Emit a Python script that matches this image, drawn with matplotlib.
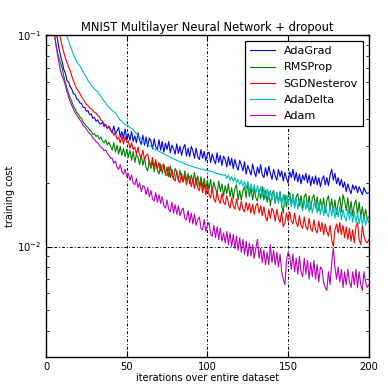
import numpy as np
import matplotlib
matplotlib.use("Agg")
import matplotlib.pyplot as plt

epochs = np.arange(1, 201)

adagrad = [
    0.350, 0.250, 0.190, 0.150, 0.125, 0.108, 0.097, 0.087, 0.080, 0.075,
    0.069, 0.066, 0.061, 0.060, 0.057, 0.0555, 0.0528, 0.0525, 0.0500, 0.0495,
    0.0478, 0.0475, 0.0456, 0.0455, 0.0437, 0.0440, 0.0420, 0.0425, 0.0405, 0.0408,
    0.0392, 0.0398, 0.0383, 0.0380, 0.0388, 0.0370, 0.0378, 0.0362, 0.0372, 0.0358,
    0.0345, 0.0372, 0.0340, 0.0352, 0.0366, 0.0330, 0.0350, 0.0326, 0.0360, 0.0322,
    0.0342, 0.0318, 0.0350, 0.0314, 0.0334, 0.0310, 0.0346, 0.0318, 0.0304, 0.0336,
    0.0302, 0.0330, 0.0296, 0.0326, 0.0316, 0.0290, 0.0324, 0.0296, 0.0288, 0.0320,
    0.0286, 0.0314, 0.0280, 0.0308, 0.0288, 0.0314, 0.0278, 0.0302, 0.0290, 0.0274,
    0.0306, 0.0276, 0.0298, 0.0270, 0.0292, 0.0304, 0.0268, 0.0292, 0.0266, 0.0298,
    0.0284, 0.0262, 0.0292, 0.0266, 0.0258, 0.0288, 0.0262, 0.0282, 0.0254, 0.0274,
    0.0280, 0.0250, 0.0274, 0.0258, 0.0246, 0.0278, 0.0250, 0.0270, 0.0242, 0.0268,
    0.0258, 0.0238, 0.0266, 0.0242, 0.0262, 0.0234, 0.0258, 0.0240, 0.0230, 0.0256,
    0.0244, 0.0228, 0.0252, 0.0220, 0.0242, 0.0230, 0.0218, 0.0246, 0.0226, 0.0214,
    0.0238, 0.0222, 0.0244, 0.0218, 0.0212, 0.0236, 0.0216, 0.0240, 0.0222, 0.0208,
    0.0232, 0.0216, 0.0206, 0.0232, 0.0214, 0.0228, 0.0204, 0.0224, 0.0210, 0.0200,
    0.0226, 0.0212, 0.0232, 0.0206, 0.0224, 0.0202, 0.0220, 0.0198, 0.0218, 0.0206,
    0.0222, 0.0200, 0.0218, 0.0194, 0.0214, 0.0198, 0.0216, 0.0196, 0.0212, 0.0192,
    0.0208, 0.0216, 0.0196, 0.0212, 0.0194, 0.0218, 0.0232, 0.0206, 0.0222, 0.0198,
    0.0212, 0.0194, 0.0208, 0.0190, 0.0202, 0.0182, 0.0198, 0.0186, 0.0178, 0.0196,
    0.0186, 0.0194, 0.0180, 0.0192, 0.0184, 0.0176, 0.0190, 0.0182, 0.0178, 0.0180]

rmsprop = [
    0.300, 0.200, 0.150, 0.120, 0.103, 0.092, 0.084, 0.078, 0.074, 0.070,
    0.064, 0.060, 0.056, 0.053, 0.0505, 0.0485, 0.0462, 0.0448, 0.0430, 0.0425,
    0.0410, 0.0405, 0.0388, 0.0380, 0.0372, 0.0366, 0.0356, 0.0352, 0.0340, 0.0342,
    0.0332, 0.0336, 0.0322, 0.0330, 0.0316, 0.0310, 0.0320, 0.0302, 0.0312, 0.0298,
    0.0286, 0.0310, 0.0280, 0.0302, 0.0274, 0.0298, 0.0270, 0.0292, 0.0266, 0.0288,
    0.0264, 0.0286, 0.0256, 0.0282, 0.0250, 0.0274, 0.0264, 0.0244, 0.0272, 0.0242,
    0.0262, 0.0236, 0.0228, 0.0256, 0.0234, 0.0252, 0.0226, 0.0250, 0.0230, 0.0220,
    0.0246, 0.0222, 0.0242, 0.0218, 0.0238, 0.0214, 0.0240, 0.0218, 0.0208, 0.0234,
    0.0226, 0.0204, 0.0230, 0.0210, 0.0202, 0.0228, 0.0206, 0.0222, 0.0198, 0.0218,
    0.0202, 0.0224, 0.0196, 0.0216, 0.0192, 0.0214, 0.0190, 0.0210, 0.0188, 0.0206,
    0.0186, 0.0208, 0.0182, 0.0202, 0.0188, 0.0178, 0.0204, 0.0182, 0.0198, 0.0174,
    0.0194, 0.0178, 0.0198, 0.0172, 0.0190, 0.0168, 0.0188, 0.0196, 0.0166, 0.0184,
    0.0166, 0.0184, 0.0192, 0.0170, 0.0202, 0.0172, 0.0190, 0.0166, 0.0188, 0.0170,
    0.0164, 0.0186, 0.0168, 0.0192, 0.0166, 0.0184, 0.0162, 0.0182, 0.0156, 0.0178,
    0.0184, 0.0160, 0.0180, 0.0162, 0.0182, 0.0156, 0.0144, 0.0176, 0.0154, 0.0174,
    0.0180, 0.0158, 0.0176, 0.0154, 0.0172, 0.0178, 0.0156, 0.0174, 0.0152, 0.0172,
    0.0178, 0.0154, 0.0174, 0.0150, 0.0170, 0.0176, 0.0152, 0.0172, 0.0148, 0.0168,
    0.0150, 0.0170, 0.0144, 0.0166, 0.0174, 0.0150, 0.0168, 0.0146, 0.0166, 0.0142,
    0.0160, 0.0172, 0.0146, 0.0176, 0.0164, 0.0148, 0.0170, 0.0144, 0.0164, 0.0140,
    0.0158, 0.0166, 0.0142, 0.0162, 0.0138, 0.0154, 0.0136, 0.0150, 0.0136, 0.0138]

sgdnesterov = [
    0.360, 0.260, 0.200, 0.160, 0.140, 0.125, 0.113, 0.104, 0.096, 0.089,
    0.083, 0.078, 0.074, 0.071, 0.068, 0.064, 0.061, 0.058, 0.056, 0.0545,
    0.0530, 0.0512, 0.0500, 0.0485, 0.0470, 0.0465, 0.0452, 0.0448, 0.0440, 0.0432,
    0.0428, 0.0418, 0.0412, 0.0398, 0.0392, 0.0380, 0.0376, 0.0364, 0.0368, 0.0354,
    0.0352, 0.0336, 0.0344, 0.0322, 0.0330, 0.0310, 0.0334, 0.0306, 0.0330, 0.0312,
    0.0316, 0.0292, 0.0310, 0.0288, 0.0296, 0.0274, 0.0296, 0.0270, 0.0264, 0.0286,
    0.0258, 0.0270, 0.0274, 0.0248, 0.0242, 0.0264, 0.0238, 0.0258, 0.0232, 0.0250,
    0.0228, 0.0240, 0.0246, 0.0220, 0.0216, 0.0238, 0.0212, 0.0232, 0.0210, 0.0204,
    0.0228, 0.0206, 0.0200, 0.0222, 0.0202, 0.0218, 0.0196, 0.0212, 0.0214, 0.0192,
    0.0208, 0.0188, 0.0212, 0.0190, 0.0184, 0.0204, 0.0180, 0.0200, 0.0176, 0.0192,
    0.0176, 0.0170, 0.0190, 0.0168, 0.0162, 0.0182, 0.0166, 0.0160, 0.0178, 0.0162,
    0.0158, 0.0174, 0.0160, 0.0152, 0.0170, 0.0156, 0.0150, 0.0168, 0.0154, 0.0148,
    0.0164, 0.0150, 0.0146, 0.0162, 0.0148, 0.0160, 0.0144, 0.0158, 0.0142, 0.0156,
    0.0160, 0.0144, 0.0156, 0.0140, 0.0154, 0.0138, 0.0132, 0.0150, 0.0136, 0.0152,
    0.0146, 0.0132, 0.0150, 0.0136, 0.0130, 0.0146, 0.0124, 0.0130, 0.0144, 0.0132,
    0.0146, 0.0132, 0.0128, 0.0144, 0.0130, 0.0124, 0.0140, 0.0126, 0.0122, 0.0138,
    0.0124, 0.0120, 0.0136, 0.0122, 0.0118, 0.0134, 0.0120, 0.0116, 0.0132, 0.0118,
    0.0130, 0.0114, 0.0128, 0.0118, 0.0112, 0.0126, 0.0108, 0.0100, 0.0120, 0.0128,
    0.0116, 0.0130, 0.0114, 0.0126, 0.0110, 0.0124, 0.0108, 0.0122, 0.0106, 0.0120,
    0.0104, 0.0124, 0.0130, 0.0108, 0.0102, 0.0126, 0.0112, 0.0106, 0.0104, 0.0108]

adadelta = [
    0.600, 0.420, 0.320, 0.260, 0.220, 0.190, 0.165, 0.148, 0.133, 0.121,
    0.112, 0.104, 0.099, 0.094, 0.089, 0.085, 0.081, 0.078, 0.075, 0.073,
    0.0715, 0.0695, 0.0670, 0.0652, 0.0636, 0.0610, 0.0598, 0.0580, 0.0570, 0.0556,
    0.0548, 0.0540, 0.0525, 0.0516, 0.0500, 0.0488, 0.0478, 0.0466, 0.0456, 0.0448,
    0.0440, 0.0434, 0.0430, 0.0418, 0.0405, 0.0396, 0.0392, 0.0384, 0.0378, 0.0376,
    0.0372, 0.0366, 0.0362, 0.0358, 0.0350, 0.0342, 0.0336, 0.0330, 0.0322, 0.0318,
    0.0314, 0.0308, 0.0306, 0.0300, 0.0298, 0.0294, 0.0290, 0.0288, 0.0285, 0.0282,
    0.0280, 0.0277, 0.0275, 0.0272, 0.0270, 0.0266, 0.0265, 0.0262, 0.0260, 0.0258,
    0.0256, 0.0254, 0.0252, 0.0250, 0.0249, 0.0246, 0.0245, 0.0243, 0.0242, 0.0240,
    0.0239, 0.0237, 0.0236, 0.0235, 0.0234, 0.0232, 0.0233, 0.0230, 0.0231, 0.0229,
    0.0228, 0.0226, 0.0227, 0.0224, 0.0223, 0.0221, 0.0222, 0.0218, 0.0220, 0.0216,
    0.0219, 0.0210, 0.0218, 0.0206, 0.0214, 0.0203, 0.0212, 0.0200, 0.0208, 0.0196,
    0.0206, 0.0193, 0.0203, 0.0188, 0.0202, 0.0184, 0.0198, 0.0182, 0.0196, 0.0179,
    0.0194, 0.0176, 0.0192, 0.0172, 0.0190, 0.0170, 0.0187, 0.0168, 0.0184, 0.0166,
    0.0182, 0.0164, 0.0180, 0.0160, 0.0178, 0.0158, 0.0176, 0.0156, 0.0174, 0.0160,
    0.0172, 0.0154, 0.0178, 0.0152, 0.0170, 0.0150, 0.0168, 0.0156, 0.0148, 0.0166,
    0.0150, 0.0164, 0.0146, 0.0162, 0.0144, 0.0160, 0.0164, 0.0144, 0.0160, 0.0142,
    0.0158, 0.0140, 0.0156, 0.0144, 0.0138, 0.0156, 0.0140, 0.0154, 0.0136, 0.0152,
    0.0138, 0.0154, 0.0134, 0.0150, 0.0138, 0.0132, 0.0150, 0.0134, 0.0148, 0.0130,
    0.0146, 0.0130, 0.0144, 0.0128, 0.0142, 0.0126, 0.0140, 0.0126, 0.0136, 0.0130]

adam = [
    0.300, 0.200, 0.150, 0.122, 0.105, 0.092, 0.082, 0.074, 0.068, 0.064,
    0.0615, 0.0575, 0.0540, 0.0510, 0.0485, 0.0465, 0.0448, 0.0430, 0.0420, 0.0408,
    0.0398, 0.0388, 0.0374, 0.0368, 0.0360, 0.0350, 0.0342, 0.0338, 0.0326, 0.0322,
    0.0314, 0.0310, 0.0302, 0.0296, 0.0292, 0.0284, 0.0286, 0.0276, 0.0270, 0.0262,
    0.0262, 0.0248, 0.0254, 0.0238, 0.0232, 0.0244, 0.0226, 0.0220, 0.0232, 0.0214,
    0.0222, 0.0206, 0.0218, 0.0200, 0.0196, 0.0210, 0.0190, 0.0200, 0.0182, 0.0194,
    0.0192, 0.0176, 0.0190, 0.0172, 0.0184, 0.0168, 0.0164, 0.0180, 0.0162, 0.0176,
    0.0160, 0.0172, 0.0156, 0.0152, 0.0166, 0.0150, 0.0146, 0.0162, 0.0144, 0.0158,
    0.0142, 0.0156, 0.0140, 0.0148, 0.0152, 0.0136, 0.0134, 0.0148, 0.0130, 0.0144,
    0.0128, 0.0142, 0.0126, 0.0134, 0.0138, 0.0122, 0.0120, 0.0134, 0.0118, 0.0126,
    0.0130, 0.0114, 0.0112, 0.0126, 0.0110, 0.0124, 0.0108, 0.0122, 0.0106, 0.0116,
    0.0104, 0.0118, 0.0102, 0.0116, 0.0100, 0.0114, 0.0098, 0.0112, 0.0096, 0.0110,
    0.0094, 0.0108, 0.0092, 0.0106, 0.0090, 0.0104, 0.0090, 0.0102, 0.0088, 0.0098,
    0.0108, 0.0088, 0.0098, 0.0084, 0.0096, 0.0082, 0.0094, 0.0082, 0.0102, 0.0084,
    0.0096, 0.0082, 0.0094, 0.0080, 0.0092, 0.0076, 0.0070, 0.0066, 0.0086, 0.0094,
    0.0090, 0.0078, 0.0092, 0.0076, 0.0088, 0.0074, 0.0090, 0.0076, 0.0072, 0.0088,
    0.0074, 0.0086, 0.0070, 0.0084, 0.0072, 0.0086, 0.0070, 0.0082, 0.0068, 0.0080,
    0.0078, 0.0068, 0.0064, 0.0062, 0.0076, 0.0066, 0.0084, 0.0098, 0.0080, 0.0070,
    0.0080, 0.0068, 0.0078, 0.0064, 0.0076, 0.0066, 0.0078, 0.0068, 0.0064, 0.0076,
    0.0066, 0.0078, 0.0064, 0.0076, 0.0066, 0.0062, 0.0076, 0.0068, 0.0064, 0.0066]

series = [("AdaGrad", adagrad, (0, 0, 1)),
          ("RMSProp", rmsprop, (0, 0.5, 0)),
          ("SGDNesterov", sgdnesterov, (1, 0, 0)),
          ("AdaDelta", adadelta, (0, 0.75, 0.75)),
          ("Adam", adam, (0.75, 0, 0.75))]

fig = plt.figure(figsize=(3.88, 3.90), dpi=100)
ax = fig.add_axes([0.1186, 0.0846, 0.832, 0.825])

for name, vals, col in series:
    ax.plot(epochs, vals, color=col, lw=0.8, label=name)

ax.set_yscale("log")
ax.set_xlim(0, 200)
ax.set_ylim(0.003, 0.1)
ax.set_xticks([0, 50, 100, 150, 200])
ax.tick_params(which="both", direction="in", top=True, right=True, labelsize=7.2)
ax.tick_params(which="major", length=4, width=0.8)
ax.tick_params(which="minor", length=2, width=0.6)
ax.grid(True, which="major", color="black", linestyle=(0, (3, 2, 1, 2)), linewidth=0.7)
for s in ax.spines.values():
    s.set_linewidth(1.0)

ax.set_title("MNIST Multilayer Neural Network + dropout", fontsize=8.3, pad=3)
ax.set_xlabel("iterations over entire dataset", fontsize=7, labelpad=1)
ax.set_ylabel("training cost", fontsize=7, labelpad=1)

leg = ax.legend(loc="upper right", fontsize=8, fancybox=False, framealpha=1,
                edgecolor="black", handlelength=2.2, borderpad=0.5, labelspacing=0.55)
leg.get_frame().set_linewidth(0.9)

fig.savefig("out.png", dpi=100)
